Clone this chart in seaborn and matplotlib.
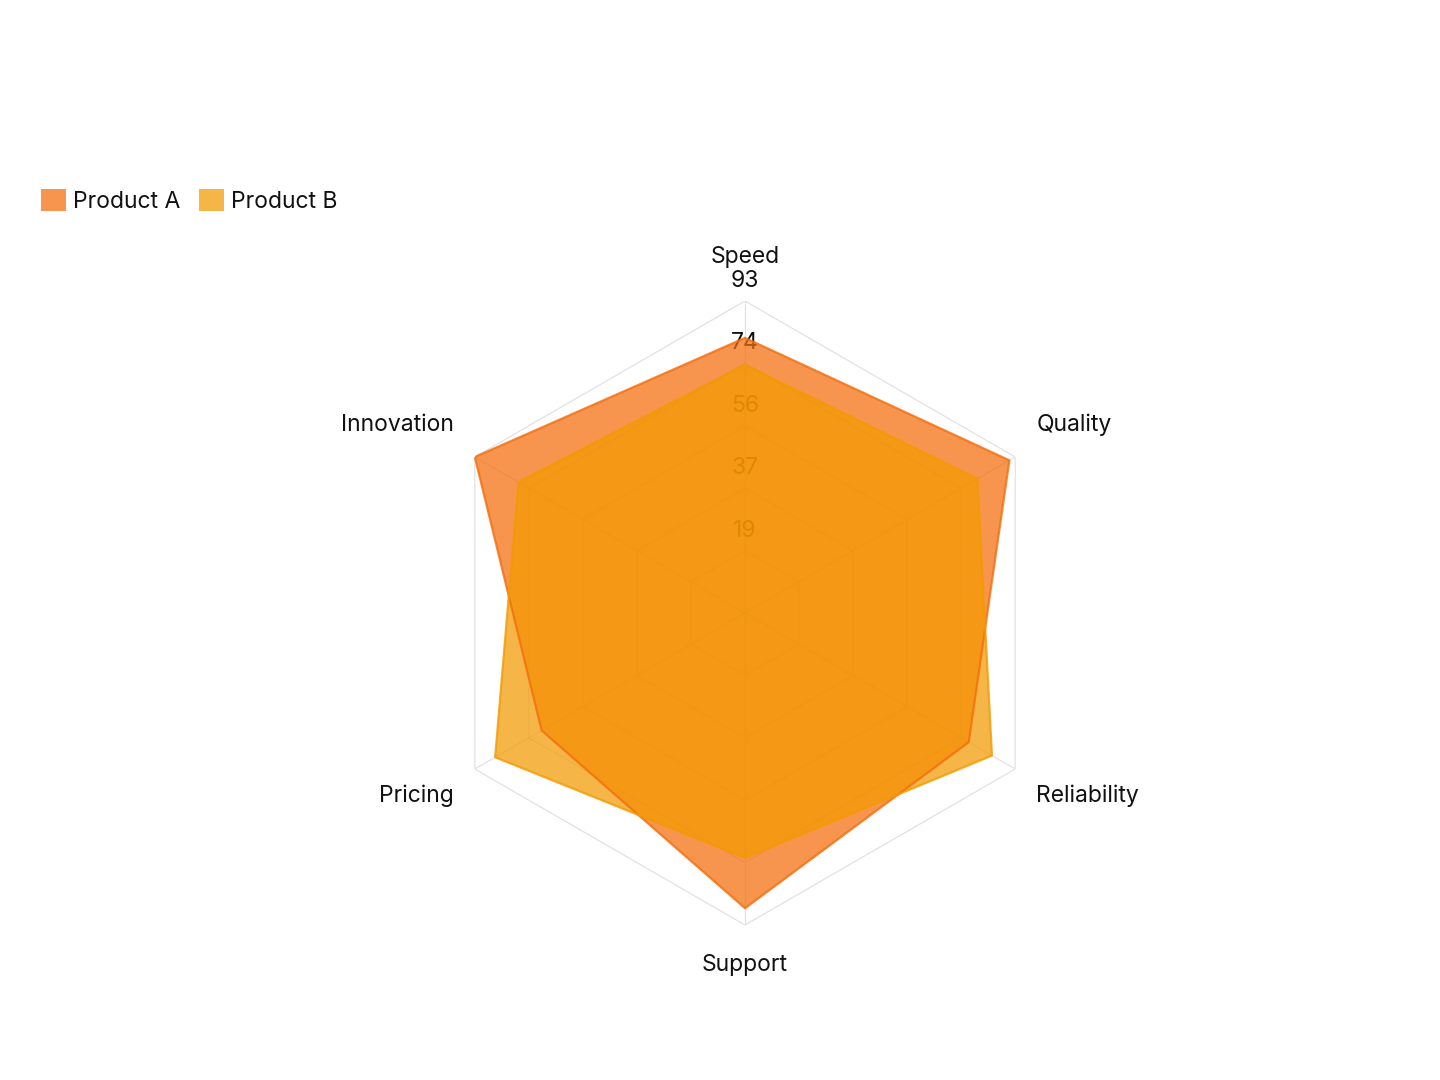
import numpy as np
import matplotlib
matplotlib.use("Agg")
import matplotlib.pyplot as plt
from matplotlib.patches import Patch
import seaborn as sns

categories = ["Speed", "Quality", "Reliability", "Support", "Pricing", "Innovation"]
series_names = ["Product A", "Product B"]
product_a = [82, 91, 77, 88, 70, 93]
product_b = [74, 80, 85, 73, 86, 78]
tick_labels = ["19", "37", "56", "74", "93"]
colors = ["#F46D0B", "#F39A00"]

sns.set_theme(style="white")
plt.rcParams["font.family"] = ["Inter", "DejaVu Sans"]

fig = plt.figure(figsize=(14.4, 10.8), dpi=100)
cx, cy, R = 745 / 1440, 1 - 613 / 1080, 312
ax = fig.add_axes([cx - R / 1440, cy - R / 1080, 2 * R / 1440, 2 * R / 1080], polar=True)
ax.set_theta_offset(np.pi / 2)
ax.set_theta_direction(-1)

n = len(categories)
theta = np.linspace(0, 2 * np.pi, n, endpoint=False)
rmax = 93
ax.set_ylim(0, rmax)
ax.grid(False)
ax.spines["polar"].set_visible(False)
ax.set_xticks([])
ax.set_yticks([])
ax.patch.set_alpha(0)

theta_c = np.append(theta, theta[0])
levels = [rmax * k / 5 for k in range(1, 6)]
grid_col = "#e2e2e6"
for lv in levels:
    ax.plot(theta_c, [lv] * (n + 1), color=grid_col, lw=0.9, zorder=1)
for t in theta:
    ax.plot([t, t], [0, rmax], color=grid_col, lw=0.9, zorder=1)

for lv, lab in zip(levels, tick_labels):
    ax.annotate(lab, xy=(0, lv), xytext=(0, 20), textcoords="offset pixels",
                ha="center", va="center", fontsize=16.5, color="#111111", zorder=2)

for vals, col in zip([product_a, product_b], colors):
    v = np.append(vals, vals[0])
    ax.fill(theta_c, v, color=col, alpha=0.72, lw=0, zorder=3)
    ax.plot(theta_c, v, color=col, lw=1.6, alpha=0.8, zorder=4)

label_specs = {
    "Speed": ((0, 44), "center"),
    "Quality": ((21, 32), "left"),
    "Reliability": ((21, -27), "left"),
    "Support": ((0, -40), "center"),
    "Pricing": ((-21, -27), "right"),
    "Innovation": ((-21, 32), "right"),
}
for t, cat in zip(theta, categories):
    off, ha = label_specs[cat]
    ax.annotate(cat, xy=(t, rmax), xytext=off, textcoords="offset pixels",
                ha=ha, va="center", fontsize=16.5, color="#111111",
                annotation_clip=False, zorder=5)

handles = [Patch(facecolor=c, alpha=0.72, edgecolor="none", label=s) for c, s in zip(colors, series_names)]
fig.legend(handles=handles, loc="upper left", bbox_to_anchor=(41 / 1440, 1 - 189 / 1080),
           ncol=2, frameon=False, fontsize=16.5, handlelength=1.1, handleheight=1.1,
           handletextpad=0.3, columnspacing=0.8, borderpad=0, borderaxespad=0,
           labelcolor="#111111")

fig.savefig("out.png", dpi=100)
